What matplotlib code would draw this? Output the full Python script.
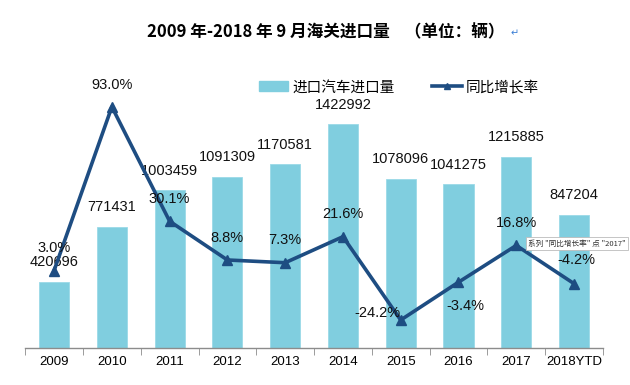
import matplotlib
matplotlib.use("Agg")
import matplotlib.pyplot as plt
import numpy as np
from matplotlib.lines import Line2D
from matplotlib.patches import Patch

plt.rcParams["font.family"] = ["Liberation Sans", "Noto Sans CJK SC", "DejaVu Sans"]

years = ["2009", "2010", "2011", "2012", "2013", "2014", "2015", "2016", "2017", "2018YTD"]
imports = [420696, 771431, 1003459, 1091309, 1170581, 1422992, 1078096, 1041275, 1215885, 847204]
growth = [3.0, 93.0, 30.1, 8.8, 7.3, 21.6, -24.2, -3.4, 16.8, -4.2]

bar_color = "#80CEDF"
line_color = "#1E4D82"

fig = plt.figure(figsize=(6.3, 3.85), dpi=100)
ax = fig.add_axes([0.04, 0.096, 0.917, 0.80])
ax2 = ax.twinx()

x = np.arange(len(years))
ax.bar(x, imports, width=0.52, color=bar_color, edgecolor="#9BDAE8", linewidth=0.6)
ax.set_xlim(-0.5, len(years) - 0.5)
ax.set_ylim(0, 1960000)

for xi, v in zip(x, imports):
    ax.annotate(str(v), (xi, v), xytext=(0, 9), textcoords="offset points",
                ha="center", va="bottom", fontsize=10.5, color="#111111")

ax2.plot(x, growth, color=line_color, linewidth=2.6, marker="^", markersize=7,
         markerfacecolor=line_color, markeredgecolor=line_color, zorder=5)
ax2.set_ylim(-39.6, 129.7)

# label offsets (points) per point
offsets = [(0, 16), (0, 16), (0, 16), (0, 16), (0, 16), (0, 16),
           (-17, 5), (5, -17), (0, 16), (2, 17)]
for xi, v, off in zip(x, growth, offsets):
    ax2.annotate(f"{v:.1f}%", (xi, v), xytext=off, textcoords="offset points",
                 ha="center", va="center", fontsize=10.5, color="#111111", zorder=6)

for a in (ax, ax2):
    for s in ("top", "right", "left"):
        a.spines[s].set_visible(False)
    a.set_yticks([])
ax2.spines["bottom"].set_visible(False)
ax.spines["bottom"].set_color("#8C8C8C")
ax.spines["bottom"].set_linewidth(1.0)

ax.set_xticks(x)
ax.set_xticklabels(years, fontsize=9.5)
ax.tick_params(axis="x", which="major", length=0, pad=6)
ax.set_xticks(np.arange(-0.5, len(years)), minor=True)
ax.tick_params(axis="x", which="minor", length=5, color="#8C8C8C", direction="out")

handles = [Patch(color=bar_color, label="进口汽车进口量"),
           Line2D([0], [0], color=line_color, linewidth=2.6, marker="^", markersize=5,
                  label="同比增长率")]
fig.legend(handles=handles, loc="center", bbox_to_anchor=(0.633, 0.773), ncol=2,
           frameon=False, handlelength=2.0, handletextpad=0.3, columnspacing=2.6,
           prop={"family": ["Noto Sans CJK SC", "DejaVu Sans"], "size": 10.5})

fig.text(0.517, 0.917, "2009 年-2018 年 9 月海关进口量    （单位：辆）",
         ha="center", va="center", fontsize=12, fontweight="bold",
         family=["Noto Sans CJK SC", "DejaVu Sans"])
fig.text(0.81, 0.914, "↵", ha="left", va="center", fontsize=7, color="#3A7FD5",
         family=["DejaVu Sans"])

# tooltip seen in the screenshot
fig.text(0.838, 0.367, "系列 \"同比增长率\" 点 \"2017\"", ha="left", va="center",
         fontsize=5.5, color="#333333", family=["Noto Sans CJK SC", "DejaVu Sans"],
         bbox=dict(boxstyle="square,pad=0.3", facecolor="white", edgecolor="#BBBBBB", linewidth=0.6),
         zorder=10)

fig.savefig("out.png", dpi=100)
